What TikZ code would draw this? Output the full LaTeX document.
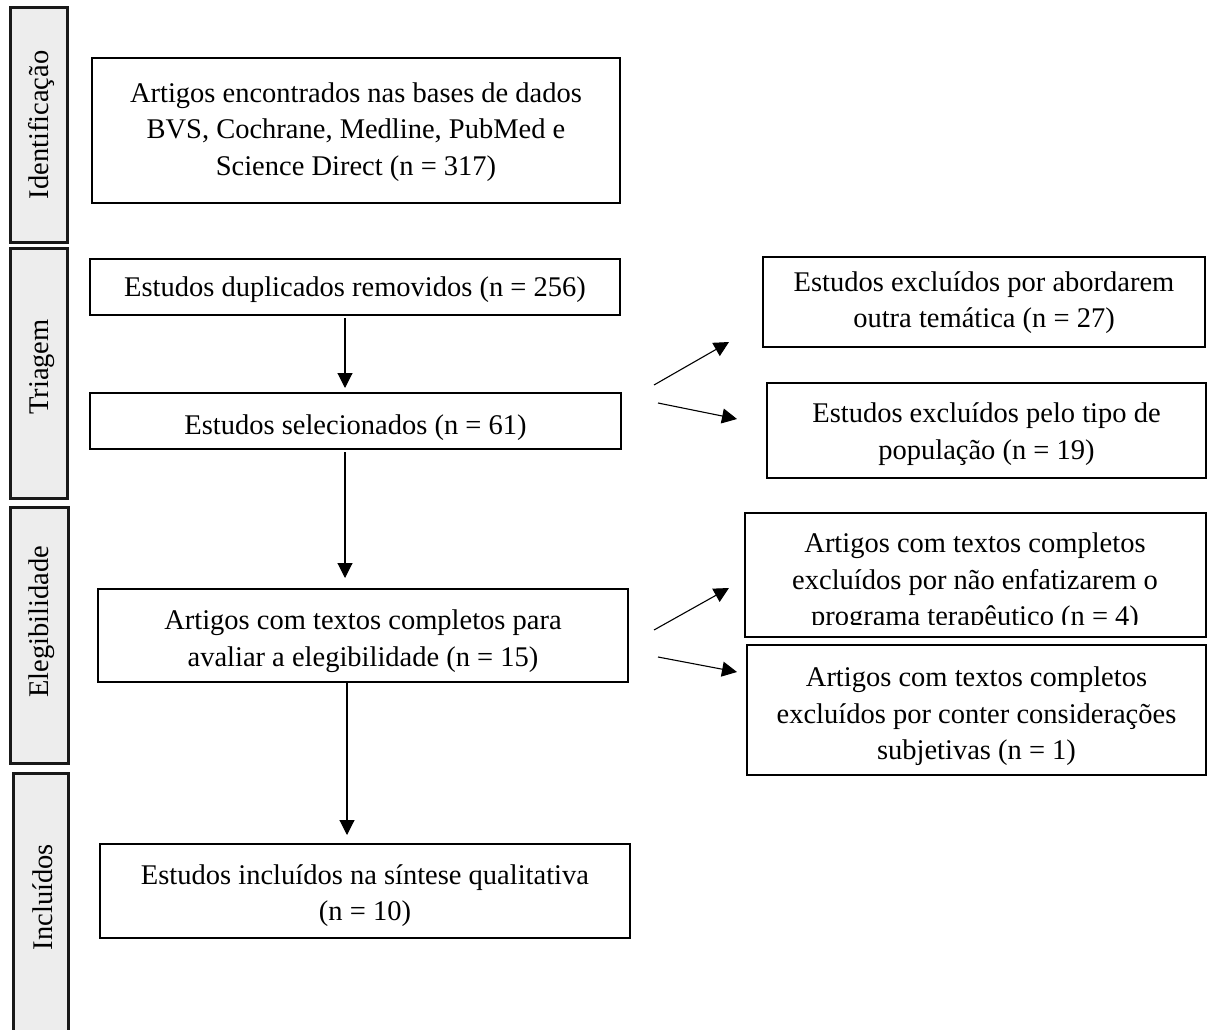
\documentclass[tikz,border=0pt]{standalone}
\usepackage{fontspec}
\setmainfont{Liberation Serif}
\usetikzlibrary{arrows.meta}
\definecolor{barfill}{HTML}{EDEDED}
\newcommand\lowertext[2]{\raisebox{#1}[\height][\depth]{\begin{tabular}{@{}c@{}}#2\end{tabular}}}
\begin{document}
\begin{tikzpicture}[x=1pt,y=-1pt,
  every node/.style={font=\fontsize{28.5}{36.5}\selectfont, inner sep=0pt, outer sep=0pt},
  box/.style={draw=black, line width=2.2pt, fill=white, align=center},
  bar/.style={draw=black!90, line width=3pt, fill=barfill},
  lbl/.style={rotate=90, anchor=center},
  arr/.style={line width=1.1pt, -{Triangle[length=15pt,width=15pt]}}]
\useasboundingbox (0,0) rectangle (1208,1030);
\fill[white] (0,0) rectangle (1208,1030);

% phase bars
\node[bar, minimum width=57pt, minimum height=234pt] (bar1) at (38.5,125) {};
\node[bar, minimum width=57pt, minimum height=250pt] (bar2) at (38.5,373) {};
\node[bar, minimum width=58pt, minimum height=256pt] (bar3) at (39,635) {};
\node[bar, minimum width=55pt, minimum height=277pt] (bar4) at (40.5,911.5) {};
\node[lbl] (l1) at (42,125) {Identificação};
\node[lbl] (l2) at (42,367) {Triagem};
\node[lbl] (l3) at (42,622) {Elegibilidade};
\node[lbl] (l4) at (43,897) {Incluídos};

% main column
\node[box, minimum width=528pt, minimum height=145pt] (b1) at (356,130.5)
  {\lowertext{-1pt}{Artigos encontrados nas bases de dados\\BVS, Cochrane, Medline, PubMed e\\Science Direct (n = 317)}};
\node[box, minimum width=530pt, minimum height=56pt] (b2) at (355,287)
  {\lowertext{-2pt}{Estudos duplicados removidos (n = 256)}};
\node[box, minimum width=531pt, minimum height=56pt] (b3) at (355.5,421)
  {\lowertext{-6pt}{Estudos selecionados (n = 61)}};
\node[box, minimum width=530pt, minimum height=93pt] (b4) at (363,635.5)
  {\lowertext{-5pt}{Artigos com textos completos para\\avaliar a elegibilidade (n = 15)}};
\node[box, minimum width=530pt, minimum height=94pt] (b5) at (365,891)
  {\lowertext{-4pt}{Estudos incluídos na síntese qualitativa\\(n = 10)}};

% exclusion column
\node[box, minimum width=442pt, minimum height=90pt] (bA) at (984,302)
  {\lowertext{0pt}{Estudos excluídos por abordarem\\outra temática (n = 27)}};
\node[box, minimum width=439pt, minimum height=95pt] (bB) at (986.5,430.5)
  {\lowertext{-3pt}{Estudos excluídos pelo tipo de\\população (n = 19)}};
\node[box, minimum width=461pt, minimum height=124pt] (bC) at (975.5,575) {};
\begin{scope}
  \clip (744,512) rectangle (1207,624);
  \node (tC) at (975,582)
    {\lowertext{0pt}{Artigos com textos completos\\excluídos por não enfatizarem o\\programa terapêutico (n = 4)}};
\end{scope}
\node[box, minimum width=459pt, minimum height=130pt] (bD) at (976.5,710)
  {\lowertext{-6pt}{Artigos com textos completos\\excluídos por conter considerações\\subjetivas (n = 1)}};

% vertical arrows
\draw[arr] ([shift={(-10,3)}]b2.south) -- ([shift={(-10.5,-5)}]b3.north);
\draw[arr] ([shift={(-10.5,3)}]b3.south) -- ([shift={(-18,-11)}]b4.north);
\draw[arr] ([shift={(-16,1)}]b4.south) -- ([shift={(-18,-9)}]b5.north);

% diagonal arrows
\coordinate (s1) at (654,385); \coordinate (e1) at (729,342);
\coordinate (s2) at (658,403); \coordinate (e2) at (737,419);
\coordinate (s3) at (654,630); \coordinate (e3) at (729,588);
\coordinate (s4) at (658,657); \coordinate (e4) at (737,672);
\draw[arr] (s1) -- (e1);
\draw[arr] (s2) -- (e2);
\draw[arr] (s3) -- (e3);
\draw[arr] (s4) -- (e4);
\end{tikzpicture}
\end{document}
